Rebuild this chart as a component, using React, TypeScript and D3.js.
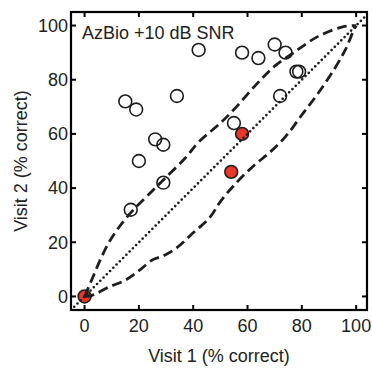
import React from 'react';
import * as d3 from 'd3';

// scores (Visit 1 vs Visit 2, % correct)
const openVisit1 = [42, 58, 64, 70, 74, 78, 79, 72, 55, 15, 19, 34, 26, 29, 20, 29, 17];
const openVisit2 = [91, 90, 88, 93, 90, 83, 83, 74, 64, 72, 69, 74, 58, 56, 50, 42, 32];
const redVisit1 = [0, 54, 58];
const redVisit2 = [0, 46, 60];

// critical-difference bounds (dashed)
const upperX = [0, 3, 6, 9, 13, 18, 25, 30, 37, 42, 50, 55, 63, 70, 77, 86, 95, 100];
const upperY = [0, 7, 14, 20, 26, 32, 39, 44, 51, 57, 64, 69, 78, 85, 90, 96, 99.5, 100];
const lowerX = [0, 3, 9, 15, 20, 25, 29, 34, 40, 46, 50, 55, 62, 68, 74, 80, 86, 92, 96, 99, 100];
const lowerY = [0, 0.5, 3.5, 6, 9.5, 13.5, 15, 18, 23.5, 29, 35, 41, 48, 53, 59, 67, 75, 84, 91, 98, 100];

const ticks = [0, 20, 40, 60, 80, 100];
const title = 'AzBio +10 dB SNR';
const xLabel = 'Visit 1 (% correct)';
const yLabel = 'Visit 2 (% correct)';

const W = 372;
const H = 369;
const box = { left: 71, right: 367, top: 12, bottom: 310 };
const font = '"Liberation Sans", Arial, Helvetica, sans-serif';

export default function App() {
  const x = d3.scaleLinear().domain([-5, 104]).range([box.left, box.right]);
  const y = d3.scaleLinear().domain([-5, 105]).range([box.bottom, box.top]);

  const curve = d3.line<[number, number]>()
    .x(d => x(d[0]))
    .y(d => y(d[1]))
    .curve(d3.curveCatmullRom);
  const straight = d3.line<[number, number]>()
    .x(d => x(d[0]))
    .y(d => y(d[1]));

  const upper = upperX.map((v, i) => [v, upperY[i]] as [number, number]);
  const lower = lowerX.map((v, i) => [v, lowerY[i]] as [number, number]);
  const identity = straight([[-5, -5], [105, 105]]) || '';
  const upperPath = curve(upper) || '';
  const lowerPath = curve(lower) || '';

  const tickLen = 5;
  const ink = '#1e1e1e';

  return (
    <svg width={W} height={H} style={{ position: 'absolute', left: 0, top: 0, background: '#fff' }}
      fontFamily={font}>
      <defs>
        <clipPath id="plot">
          <rect x={box.left} y={box.top} width={box.right - box.left} height={box.bottom - box.top} />
        </clipPath>
      </defs>

      {/* points */}
      {openVisit1.map((v, i) => (
        <circle key={'o' + i} cx={x(v)} cy={y(openVisit2[i])} r={6.4}
          fill="none" stroke={ink} strokeWidth={1.6} />
      ))}
      {redVisit1.map((v, i) => (
        <circle key={'r' + i} cx={x(v)} cy={y(redVisit2[i])} r={6.4}
          fill="#e8382a" stroke={ink} strokeWidth={1.6} />
      ))}

      {/* lines */}
      <g clipPath="url(#plot)" fill="none" stroke={ink}>
        <path d={identity} strokeWidth={2.7} strokeDasharray="0 4.6" strokeLinecap="round" />
        <path d={upperPath} strokeWidth={2.8} strokeDasharray="10 5" />
        <path d={lowerPath} strokeWidth={2.8} strokeDasharray="10 5" />
      </g>

      {/* frame */}
      <rect x={box.left} y={box.top} width={box.right - box.left} height={box.bottom - box.top}
        fill="none" stroke="#000" strokeWidth={2.2} />

      {/* ticks */}
      {ticks.map(t => (
        <g key={'x' + t} stroke="#000" strokeWidth={2}>
          <line x1={x(t)} x2={x(t)} y1={box.bottom} y2={box.bottom - tickLen} />
          <line x1={x(t)} x2={x(t)} y1={box.top} y2={box.top + tickLen} />
          <line x1={box.left} x2={box.left + tickLen} y1={y(t)} y2={y(t)} />
          <line x1={box.right} x2={box.right - tickLen} y1={y(t)} y2={y(t)} />
        </g>
      ))}

      {/* tick labels */}
      {ticks.map(t => (
        <text key={'xl' + t} x={x(t)} y={box.bottom + 22} textAnchor="middle" fontSize={18} fill="#222">{t}</text>
      ))}
      {ticks.map(t => (
        <text key={'yl' + t} x={box.left - 3} y={y(t)} dy="0.35em" textAnchor="end" fontSize={18} fill="#222">{t}</text>
      ))}

      <text x={82} y={39} fontSize={18} fill="#222">{title}</text>
      <text x={(box.left + box.right) / 2} y={362} textAnchor="middle" fontSize={18} fill="#222">{xLabel}</text>
      <text transform={`translate(27,${(box.top + box.bottom) / 2}) rotate(-90)`} textAnchor="middle"
        fontSize={18} fill="#222">{yLabel}</text>
    </svg>
  );
}
